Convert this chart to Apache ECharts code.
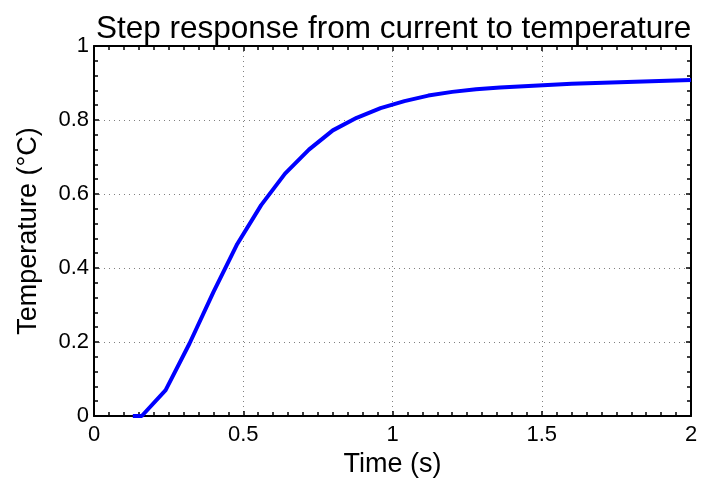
<!DOCTYPE html>
<html>
<head>
<meta charset="utf-8">
<script src="https://cdn.jsdelivr.net/npm/echarts@6/dist/echarts.min.js"></script>
<style>
html,body{margin:0;padding:0;background:#fff;}
#chart{width:714px;height:479px;}
</style>
</head>
<body>
<div id="chart"></div>
<script>
// step response samples
var timeVals = [0.13, 0.16, 0.24, 0.32, 0.40, 0.48, 0.56, 0.64, 0.72, 0.80, 0.88, 0.96, 1.04, 1.12, 1.20, 1.28, 1.36, 1.60, 2.00];
var tempVals = [0, 0, 0.07, 0.196, 0.335, 0.465, 0.57, 0.655, 0.72, 0.772, 0.806, 0.832, 0.851, 0.866, 0.876, 0.883, 0.888, 0.898, 0.908];
var xTicks = ["0", "0.5", "1", "1.5", "2"];
var yTicks = ["0", "0.2", "0.4", "0.6", "0.8", "1"];

var fontName = "Liberation Sans";
var points = [];
for (var i = 0; i < timeVals.length; i++) {
    points.push([timeVals[i], tempVals[i]]);
}

var frameAxis = {
    axisLine: {show: true, onZero: false, lineStyle: {color: '#000', width: 2}},
    axisTick: {show: true, inside: true, length: 5, lineStyle: {color: '#000', width: 1.5}},
    minorTick: {show: true, length: 4, lineStyle: {color: '#000', width: 1.5}}
};

var myChart = echarts.init(document.getElementById("chart"));
var option = {
    animation: false,
    title: {
        text: "Step response from current to temperature",
        left: 91,
        top: 8,
        textStyle: {fontFamily: fontName, fontSize: 31.5, fontWeight: 'normal', color: '#000'}
    },
    grid: {left: 94, right: 23, top: 46, bottom: 63, outerBoundsMode: 'none', containLabel: false},
    xAxis: [{
        type: 'value', min: 0, max: 2, interval: 0.5,
        name: "Time (s)", nameLocation: 'middle', nameGap: 33,
        nameTextStyle: {fontFamily: fontName, fontSize: 27, color: '#000'},
        axisLine: frameAxis.axisLine,
        axisTick: frameAxis.axisTick,
        minorTick: Object.assign({splitNumber: 10}, frameAxis.minorTick),
        axisLabel: {fontFamily: fontName, fontSize: 22, color: '#000', margin: 8,
            formatter: function (v) { return xTicks[Math.round(v / 0.5)]; }},
        splitLine: {show: true, lineStyle: {color: '#808080', type: [1, 4], width: 1}}
    }, {
        type: 'value', min: 0, max: 2, interval: 0.5, position: 'top',
        axisLine: frameAxis.axisLine,
        axisTick: frameAxis.axisTick,
        minorTick: Object.assign({splitNumber: 10}, frameAxis.minorTick),
        axisLabel: {show: false},
        splitLine: {show: false}
    }],
    yAxis: [{
        type: 'value', min: 0, max: 1, interval: 0.2,
        name: "Temperature (°C)", nameLocation: 'middle', nameGap: 52, nameRotate: 90,
        nameTextStyle: {fontFamily: fontName, fontSize: 27, color: '#000'},
        axisLine: frameAxis.axisLine,
        axisTick: frameAxis.axisTick,
        minorTick: Object.assign({splitNumber: 5}, frameAxis.minorTick),
        axisLabel: {fontFamily: fontName, fontSize: 22, color: '#000', margin: 5,
            formatter: function (v) { return yTicks[Math.round(v / 0.2)]; }},
        splitLine: {show: true, lineStyle: {color: '#808080', type: [1, 4], width: 1}}
    }, {
        type: 'value', min: 0, max: 1, interval: 0.2, position: 'right',
        axisLine: frameAxis.axisLine,
        axisTick: frameAxis.axisTick,
        minorTick: Object.assign({splitNumber: 5}, frameAxis.minorTick),
        axisLabel: {show: false},
        splitLine: {show: false}
    }],
    series: [{
        type: 'line',
        data: points,
        showSymbol: false,
        smooth: false,
        lineStyle: {color: '#0000ff', width: 4},
        z: 1
    }]
};
myChart.setOption(option);
</script>
</body>
</html>
